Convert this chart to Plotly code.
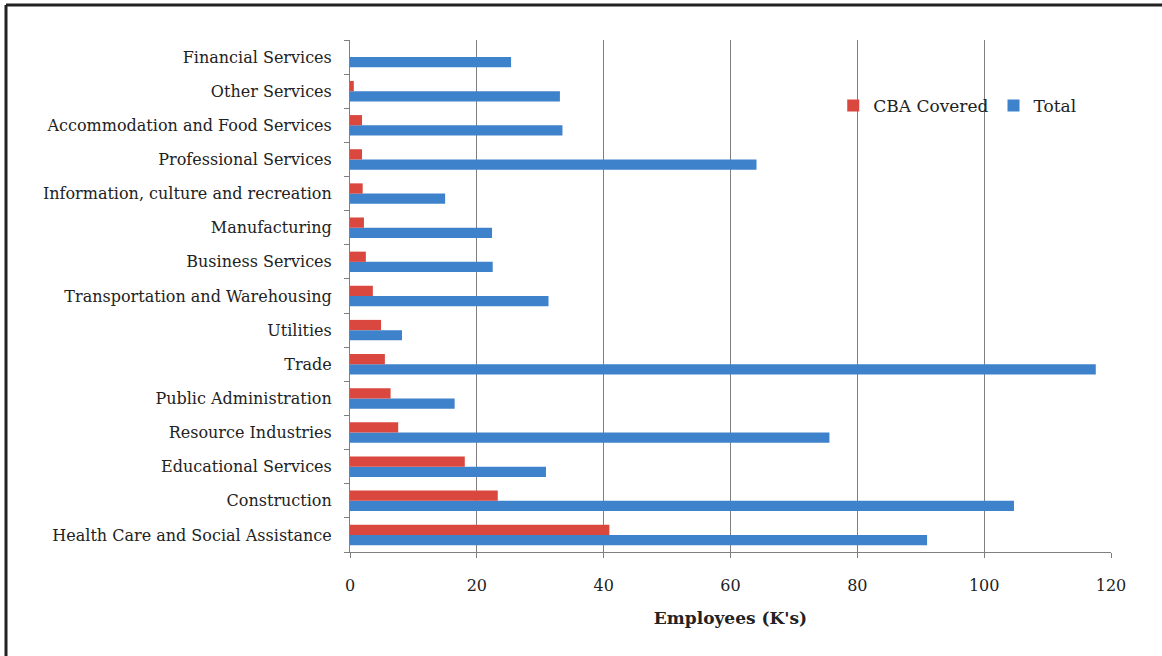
import plotly.graph_objects as go

categories = [
    "Health Care and Social Assistance",
    "Construction",
    "Educational Services",
    "Resource Industries",
    "Public Administration",
    "Trade",
    "Utilities",
    "Transportation and Warehousing",
    "Business Services",
    "Manufacturing",
    "Information, culture and recreation",
    "Professional Services",
    "Accommodation and Food Services",
    "Other Services",
    "Financial Services",
]
cba_covered = [40.9, 23.3, 18.1, 7.6, 6.4, 5.5, 4.9, 3.6, 2.5, 2.2, 2.0, 1.9, 1.9, 0.6, 0.0]
total = [91.0, 104.7, 30.9, 75.6, 16.5, 117.6, 8.2, 31.3, 22.5, 22.4, 15.0, 64.1, 33.5, 33.1, 25.4]
x_ticks = [0, 20, 40, 60, 80, 100, 120]

FONT = "DejaVu Serif"

fig = go.Figure()
fig.add_trace(go.Bar(y=categories, x=total, name="Total", orientation="h",
                     marker=dict(color="#3D82CA", line=dict(width=0)), legendrank=2))
fig.add_trace(go.Bar(y=categories, x=cba_covered, name="CBA Covered", orientation="h",
                     marker=dict(color="#D9473F", line=dict(width=0)), legendrank=1))

L, R, T, B = 350, 51, 40, 104
PW = 1162 - L - R
PH = 656 - T - B

fig.update_layout(
    width=1162, height=656,
    barmode="group", bargap=0.4, bargroupgap=0,
    paper_bgcolor="white", plot_bgcolor="white",
    margin=dict(l=L, r=R, t=T, b=B),
    font=dict(family=FONT, size=16, color="#222222"),
    showlegend=True,
    legend=dict(orientation="h", x=0.635, y=(656 - B - 106) / PH, xanchor="left", yanchor="middle",
                font=dict(family=FONT, size=17, color="#222222"),
                bgcolor="rgba(255,255,255,0)", itemwidth=30),
    xaxis=dict(range=[0, 120], tickvals=x_ticks, showgrid=True, gridcolor="#7f7f7f", gridwidth=1,
               showline=True, linecolor="#7f7f7f", linewidth=1, ticks="outside", ticklen=5,
               tickcolor="#7f7f7f", zeroline=False, tickfont=dict(size=16),
               ticklabelstandoff=14,
               title=dict(text="<b>Employees (K's)</b>", font=dict(size=17, family=FONT), standoff=17)),
    yaxis=dict(showline=True, linecolor="#7f7f7f", linewidth=1, ticks="outside", ticklen=5,
               tickcolor="#7f7f7f", tickson="boundaries", showgrid=False,
               ticklabelstandoff=14,
               tickfont=dict(size=16), automargin=False),
)
# outer frame (top and left edges visible in the reference)
fx = (6 - L) / PW
fy = (656 - 5 - B) / PH
fig.add_shape(type="line", xref="paper", yref="paper",
              x0=fx, x1=(1162 - L) / PW, y0=fy, y1=fy,
              line=dict(color="#222222", width=3))
fig.add_shape(type="line", xref="paper", yref="paper",
              x0=fx, x1=fx, y0=fy, y1=-B / PH,
              line=dict(color="#222222", width=3))

fig.write_html("out.html", config={"displayModeBar": False},
               post_script="document.body.style.margin='0';")
